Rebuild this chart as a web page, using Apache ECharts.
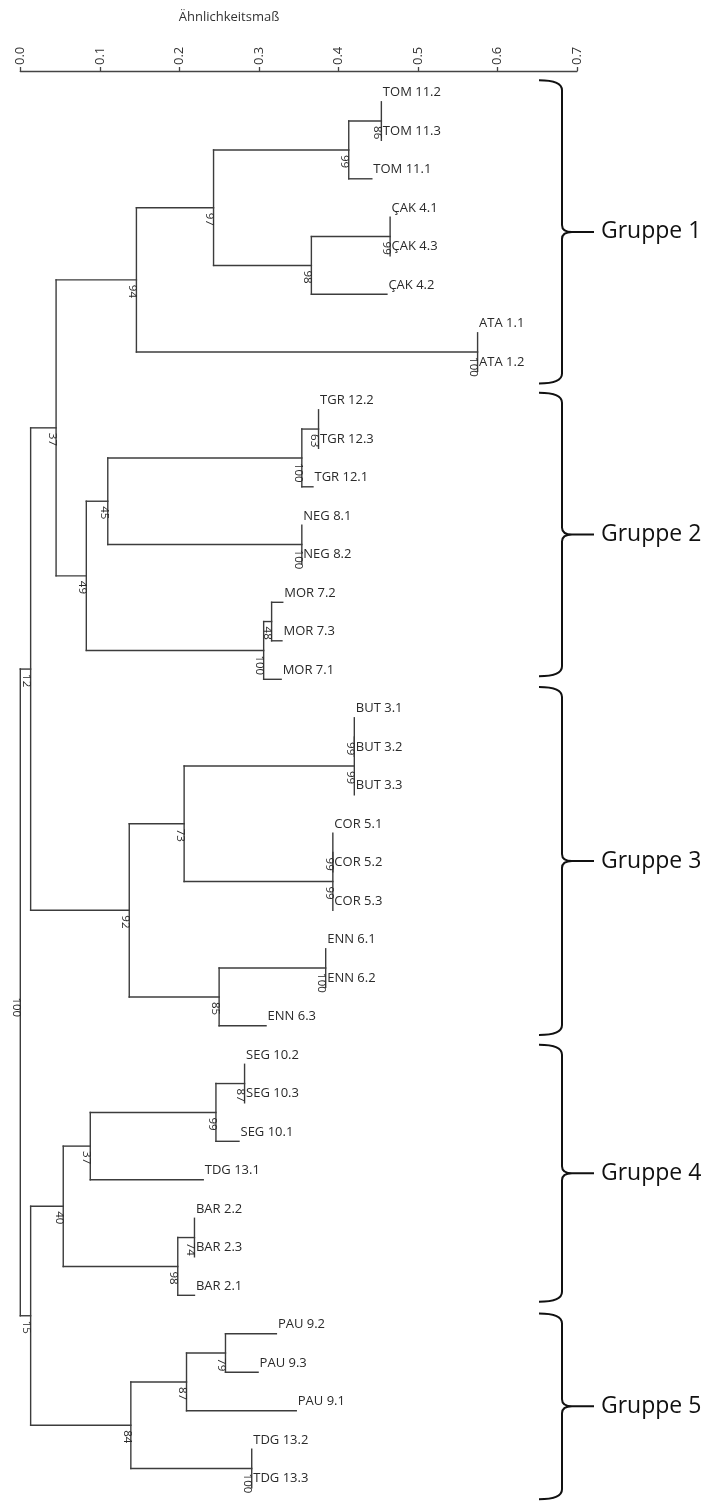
<!DOCTYPE html>
<html>
<head>
<meta charset="utf-8">
<script src="https://cdn.jsdelivr.net/npm/echarts@6.0.0/dist/echarts.min.js"></script>
<style>
html,body{margin:0;padding:0;background:#fff;}
#chart{width:711px;height:1501px;}
</style>
</head>
<body>
<div id="chart"></div>
<script>
// ---- data ----
const axisTitle = 'Ähnlichkeitsmaß';
const tickLabels = ['0.0','0.1','0.2','0.3','0.4','0.5','0.6','0.7'];

const leafNames = [
  'TOM 11.2','TOM 11.3','TOM 11.1','ÇAK 4.1','ÇAK 4.3','ÇAK 4.2','ATA 1.1','ATA 1.2',
  'TGR 12.2','TGR 12.3','TGR 12.1','NEG 8.1','NEG 8.2','MOR 7.2','MOR 7.3','MOR 7.1',
  'BUT 3.1','BUT 3.2','BUT 3.3','COR 5.1','COR 5.2','COR 5.3','ENN 6.1','ENN 6.2','ENN 6.3',
  'SEG 10.2','SEG 10.3','SEG 10.1','TDG 13.1','BAR 2.2','BAR 2.3','BAR 2.1',
  'PAU 9.2','PAU 9.3','PAU 9.1','TDG 13.2','TDG 13.3'
];
const leafSim = [
  0.454,0.454,0.442,0.465,0.465,0.461,0.575,0.575,
  0.375,0.375,0.368,0.354,0.354,0.330,0.329,0.328,
  0.420,0.420,0.420,0.393,0.393,0.393,0.384,0.384,0.309,
  0.282,0.282,0.275,0.230,0.219,0.219,0.219,
  0.322,0.299,0.347,0.291,0.291
];

const nodeIds = ['TOMa','TOM','CAKa','CAK','C1','ATA','G1','TGRa','TGR','NEG','TN','MORa','MOR','G2','G12',
  'BUTa','BUT','CORa','COR','BC','ENNa','ENN','G3','G123',
  'SEGa','SEG','ST','BARa','BAR','G4','PAUa','PAU','TDG','G5','G45','ROOT'];
const nodeLeft = ['TOM 11.2','TOMa','ÇAK 4.1','CAKa','TOM','ATA 1.1','C1','TGR 12.2','TGRa','NEG 8.1','TGR','MOR 7.2','MORa','TN','G1',
  'BUT 3.1','BUTa','COR 5.1','CORa','BUT','ENN 6.1','ENNa','BC','G12',
  'SEG 10.2','SEGa','SEG','BAR 2.2','BARa','ST','PAU 9.2','PAUa','TDG 13.2','PAU','G4','G123'];
const nodeRight = ['TOM 11.3','TOM 11.1','ÇAK 4.3','ÇAK 4.2','CAK','ATA 1.2','ATA','TGR 12.3','TGR 12.1','NEG 8.2','NEG','MOR 7.3','MOR 7.1','MOR','G2',
  'BUT 3.2','BUT 3.3','COR 5.2','COR 5.3','COR','ENN 6.2','ENN 6.3','ENN','G3',
  'SEG 10.3','SEG 10.1','TDG 13.1','BAR 2.3','BAR 2.1','BAR','PAU 9.3','PAU 9.1','TDG 13.3','TDG','G5','G45'];
const nodeSim = [0.454,0.413,0.465,0.366,0.243,0.575,0.146,0.375,0.354,0.354,0.110,0.316,0.306,0.083,0.045,
  0.420,0.420,0.393,0.393,0.206,0.384,0.250,0.137,0.013,
  0.282,0.246,0.088,0.219,0.198,0.054,0.258,0.209,0.291,0.139,0.013,0.000];
const nodeSupport = [86,99,99,98,97,100,94,63,100,100,45,48,100,49,37,
  99,99,99,99,73,100,85,92,12,
  87,99,37,74,98,40,79,87,100,84,15,100];

const groupNames = ['Gruppe 1','Gruppe 2','Gruppe 3','Gruppe 4','Gruppe 5'];
const groupTop = [-0.56, 7.56, 15.2, 24.49, 31.47];
const groupBottom = [7.32, 14.92, 24.24, 31.17, 36.3];

// ---- tree layout (y = leaf order, x = similarity) ----
const cache = {};
function posOf(name) {
  if (cache[name]) return cache[name];
  const li = leafNames.indexOf(name);
  let p;
  if (li >= 0) {
    p = {x: leafSim[li], y: li};
  } else {
    const k = nodeIds.indexOf(name);
    const a = posOf(nodeLeft[k]), b = posOf(nodeRight[k]);
    p = {x: nodeSim[k], y: (a.y + b.y) / 2};
  }
  cache[name] = p;
  return p;
}
const segments = [];
const supportData = [];
nodeIds.forEach((id, k) => {
  const p = posOf(id);
  const a = posOf(nodeLeft[k]), b = posOf(nodeRight[k]);
  segments.push([p.x, a.y, p.x, b.y]);
  segments.push([p.x, a.y, a.x, a.y]);
  segments.push([p.x, b.y, b.x, b.y]);
  supportData.push([p.x, p.y, nodeSupport[k]]);
});
const leafData = leafNames.map((n, i) => [leafSim[i], i, n]);
const groupData = groupNames.map((n, i) => [groupTop[i], groupBottom[i], n]);

const LINE = '#3c3c3c';
const FONT = '"Open Sans", "DejaVu Sans", sans-serif';

const chart = echarts.init(document.getElementById('chart'), null, {renderer: 'canvas'});
chart.setOption({
  animation: false,
  backgroundColor: '#fff',
  title: {
    text: axisTitle, left: 224, top: 6, textAlign: 'center',
    textStyle: {fontFamily: FONT, fontSize: 13, fontWeight: 'normal', color: '#333'}
  },
  grid: {left: 20.3, width: 556.7, top: 71, height: 1428.35, containLabel: false},
  xAxis: {
    type: 'value', position: 'top', min: 0, max: 0.7, interval: 0.1,
    splitLine: {show: false},
    axisLine: {show: true, onZero: false, lineStyle: {color: '#444', width: 1.4}},
    axisTick: {show: true, length: 4, lineStyle: {color: '#444', width: 1.3}},
    axisLabel: {
      rotate: -90, margin: 6, fontFamily: FONT, fontSize: 13, color: '#333',
      formatter: v => tickLabels[Math.round(v * 10)]
    }
  },
  yAxis: {type: 'value', inverse: true, min: -0.8, max: 36.3, show: false},
  series: [
    {
      type: 'custom', name: 'branches', clip: false,
      encode: {x: [0, 2], y: [1, 3]},
      data: segments,
      renderItem: (params, api) => {
        const p1 = api.coord([api.value(0), api.value(1)]);
        const p2 = api.coord([api.value(2), api.value(3)]);
        return {type: 'line', shape: {x1: p1[0], y1: p1[1], x2: p2[0], y2: p2[1]},
          style: {stroke: LINE, lineWidth: 1.4, lineCap: 'square'}};
      }
    },
    {
      type: 'custom', name: 'leaves', clip: false,
      encode: {x: 0, y: 1},
      data: leafData,
      renderItem: (params, api) => {
        const p = api.coord([api.value(0), api.value(1)]);
        return {type: 'text', x: p[0] + 1.5, y: p[1] - 9.5,
          style: {text: leafData[params.dataIndex][2], font: '13px ' + FONT, fill: '#2a2a2a',
            align: 'left', verticalAlign: 'middle'}};
      }
    },
    {
      type: 'custom', name: 'support', clip: false,
      encode: {x: 0, y: 1},
      data: supportData,
      renderItem: (params, api) => {
        const p = api.coord([api.value(0), api.value(1)]);
        return {type: 'text', x: p[0] - 4, y: p[1] + 5, rotation: -Math.PI / 2,
          style: {text: String(api.value(2)), font: '11.5px ' + FONT, fill: '#2a2a2a',
            align: 'left', verticalAlign: 'middle'}};
      }
    },
    {
      type: 'custom', name: 'groups', clip: false,
      encode: {y: [0, 1]},
      data: groupData,
      renderItem: (params, api) => {
        const top = api.coord([0, api.value(0)])[1];
        const bot = api.coord([0, api.value(1)])[1];
        const mid = (top + bot) / 2;
        const x0 = 539, x1 = 562, xt = 572, x2 = 594, r = 10, rt = 7;
        const d = `M${x0} ${top} Q${x1} ${top} ${x1} ${top + r} L${x1} ${mid - rt} Q${x1} ${mid} ${xt} ${mid}` +
          ` Q${x1} ${mid} ${x1} ${mid + rt} L${x1} ${bot - r} Q${x1} ${bot} ${x0} ${bot}` +
          ` M${xt} ${mid} L${x2} ${mid}`;
        return {type: 'group', children: [
          {type: 'path', shape: {pathData: d},
            style: {stroke: '#111', lineWidth: 2, fill: null}},
          {type: 'text', x: 601, y: mid,
            style: {text: groupData[params.dataIndex][2], font: '23px ' + FONT, fill: '#111',
              align: 'left', verticalAlign: 'middle'}}
        ]};
      }
    }
  ]
});
</script>
</body>
</html>
